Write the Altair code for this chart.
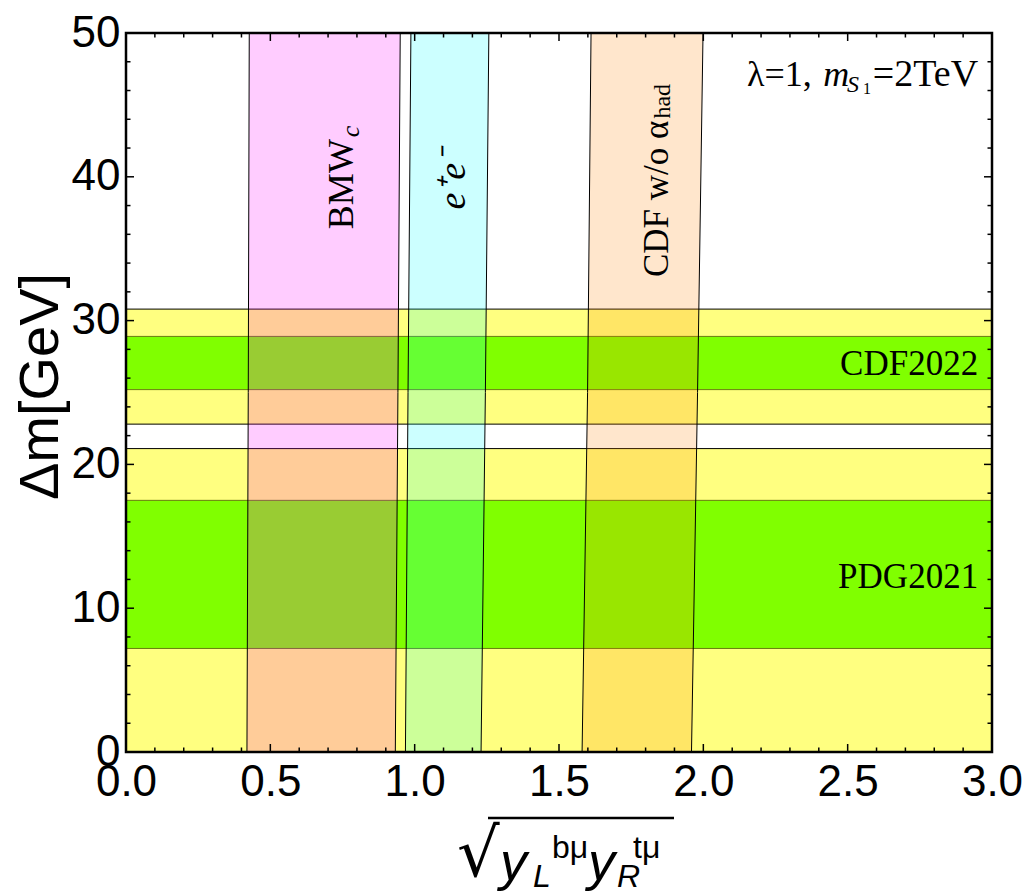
import altair as alt
import pandas as pd

# ---------------- data ----------------
# horizontal bands (Delta m in GeV)
h_names = ["CDF2022 2s", "CDF2022 1s", "PDG2021 2s", "PDG2021 1s"]
h_lo = [22.8, 25.2, 0.0, 7.2]
h_hi = [30.8, 28.9, 21.1, 17.5]
h_kind = ["2s", "1s", "2s", "1s"]

# vertical bands: edges read at three heights
edge_y = [0.0, 25.0, 50.0]
bmw_left = [0.419, 0.4235, 0.427]
bmw_right = [0.933, 0.942, 0.950]
ee_left = [0.968, 0.977, 0.987]
ee_right = [1.230, 1.245, 1.257]
cdf_left = [1.580, 1.599, 1.611]
cdf_right = [1.959, 1.980, 1.999]

x_major = [0.0, 0.5, 1.0, 1.5, 2.0, 2.5, 3.0]
x_minor = [0.1, 0.2, 0.3, 0.4, 0.6, 0.7, 0.8, 0.9, 1.1, 1.2, 1.3, 1.4,
           1.6, 1.7, 1.8, 1.9, 2.1, 2.2, 2.3, 2.4, 2.6, 2.7, 2.8, 2.9]
y_major = [0, 10, 20, 30, 40, 50]
y_minor = [2, 4, 6, 8, 12, 14, 16, 18, 22, 24, 26, 28, 32, 34, 36, 38,
           42, 44, 46, 48]

W, H = 866, 719
TOP = 25
XS = alt.Scale(domain=[0, 3], nice=False, zero=False)
YS = alt.Scale(domain=[0, 50], nice=False, zero=False)

hdf = pd.DataFrame({"name": h_names, "lo": h_lo, "hi": h_hi, "kind": h_kind,
                    "x0": [0.0] * 4, "x1": [3.0] * 4})
one = pd.DataFrame({"a": [0]})

# ---------------- axes (same objects on every layer so they merge) -------
x_axis = alt.Axis(values=x_major, format=".1f", labelFont="Liberation Sans",
                  labelFontSize=44, labelPadding=8, ticks=False, tickSize=0,
                  domain=False, grid=False, title=None, labelColor="black",
                  labelOverlap=False, labelFlush=False)
y_axis = alt.Axis(values=y_major, format="d", labelFont="Liberation Sans",
                  labelFontSize=44, labelPadding=6, ticks=False, tickSize=0,
                  domain=False, grid=False, title="Δm[GeV]", labelColor="black",
                  labelOverlap=False, labelFlush=False,
                  titleFont="Liberation Sans", titleFontSize=56,
                  titleFontWeight="normal", titleColor="black", titleAngle=270,
                  titleX=-86, titleY=353, titleAlign="center",
                  titleBaseline="middle")


def X(field, **kw):
    return alt.X(field, scale=XS, axis=x_axis, **kw)


def Y(field, **kw):
    return alt.Y(field, scale=YS, axis=y_axis, **kw)


yellow = alt.Chart(hdf).transform_filter(alt.datum.kind == "2s").mark_rect(
    fill="#FFFF80", stroke="black", strokeWidth=1
).encode(x=X("x0:Q"), x2="x1:Q", y=Y("lo:Q"), y2="hi:Q")

green = alt.Chart(hdf).transform_filter(alt.datum.kind == "1s").mark_rect(
    fill="#80FF00", stroke="#6a7d10", strokeWidth=1
).encode(x=X("x0:Q"), x2="x1:Q", y=Y("lo:Q"), y2="hi:Q")


def vband(left, right, color):
    d = pd.DataFrame({"y": edge_y, "l": left, "r": right})
    return alt.Chart(d).mark_area(
        orient="horizontal", fill=color, fillOpacity=0.2, stroke="black",
        strokeWidth=1, interpolate="linear"
    ).encode(y=Y("y:Q"), x=X("l:Q", stack=None), x2="r:Q")


vbands = [vband(bmw_left, bmw_right, "#FF00FF"),
          vband(ee_left, ee_right, "#00FFFF"),
          vband(cdf_left, cdf_right, "#FF8000")]


def xticks(vals, length, top):
    d = pd.DataFrame({"v": vals})
    yy, yy2 = (0, length) if top else (H, H - length)
    return alt.Chart(d).mark_rule(color="black", strokeWidth=1.5).encode(
        x=X("v:Q"), y=alt.value(yy), y2=alt.value(yy2))


def yticks(vals, length, right):
    d = pd.DataFrame({"v": vals})
    xx, xx2 = (W, W - length) if right else (0, length)
    return alt.Chart(d).mark_rule(color="black", strokeWidth=1.5).encode(
        y=Y("v:Q"), x=alt.value(xx), x2=alt.value(xx2))


ticks = [xticks(x_major, 8, False), xticks(x_minor, 4.5, False),
         xticks(x_major, 8, True), xticks(x_minor, 4.5, True),
         yticks(y_major, 8, False), yticks(y_minor, 4.5, False),
         yticks(y_major, 8, True), yticks(y_minor, 4.5, True)]

frame = alt.Chart(one).mark_rect(fillOpacity=0, stroke="black", strokeWidth=2.5).encode(
    x=alt.value(0), x2=alt.value(W), y=alt.value(0), y2=alt.value(H))

SERIF = "Liberation Serif"


def dtext(txt, x, y, **kw):
    d = pd.DataFrame({"px": [x], "py": [y]})
    return alt.Chart(d).mark_text(color="black", **kw).encode(
        x=X("px:Q"), y=Y("py:Q"), text=alt.value(txt))


def ptext(txt, x, y, **kw):
    return alt.Chart(one).mark_text(color="black", **kw).encode(
        x=alt.value(x), y=alt.value(y), text=alt.value(txt))


labels = [
    dtext("BMW", 0.748, 36.36, font=SERIF, fontSize=36, angle=270,
          align="left", baseline="middle"),
    dtext("c", 0.779, 42.75, font=SERIF, fontSize=26, fontStyle="italic",
          angle=270, align="left", baseline="middle"),
    dtext("e⁺e⁻", 1.136, 39.8, font=SERIF, fontSize=38, fontStyle="italic",
          angle=270, align="center", baseline="middle"),
    dtext("CDF w/o α", 1.840, 33.03, font=SERIF, fontSize=35, angle=270,
          align="left", baseline="middle"),
    dtext("had", 1.860, 44.05, font=SERIF, fontSize=24, angle=270,
          align="left", baseline="middle"),
    dtext("CDF2022", 2.952, 27.0, font=SERIF, fontSize=35, align="right",
          baseline="middle"),
    dtext("PDG2021", 2.952, 12.2, font=SERIF, fontSize=35, align="right",
          baseline="middle"),
    dtext("λ=1, ", 2.151, 46.3, font=SERIF, fontSize=36, align="left",
          baseline="alphabetic"),
    dtext("m", 2.415, 46.3, font=SERIF, fontSize=36, fontStyle="italic",
          align="left", baseline="alphabetic"),
    dtext("S", 2.498, 45.88, font=SERIF, fontSize=24, fontStyle="italic",
          align="left", baseline="alphabetic"),
    dtext("1", 2.553, 45.74, font=SERIF, fontSize=16, align="left",
          baseline="alphabetic"),
    dtext("=2TeV", 2.952, 46.3, font=SERIF, fontSize=38, align="right",
          baseline="alphabetic"),
]

SANS = "Liberation Sans"
# x-axis title, pixel positions relative to the plot's top-left corner
dy = 30 - (8 + TOP)
xtitle = [
    ptext("√", 331, 846 + dy, font="DejaVu Sans", fontSize=67, align="left",
          baseline="alphabetic"),
    alt.Chart(one).mark_rule(color="black", strokeWidth=2.5).encode(
        x=alt.value(362), x2=alt.value(548), y=alt.value(788 + dy)),
    ptext("y", 374, 850 + dy, font=SANS, fontSize=54, fontStyle="italic",
          align="left", baseline="alphabetic"),
    ptext("L", 407, 857 + dy, font=SANS, fontSize=32, fontStyle="italic",
          align="left", baseline="alphabetic"),
    ptext("bμ", 426, 828 + dy, font=SANS, fontSize=32, align="left",
          baseline="alphabetic"),
    ptext("y", 462, 850 + dy, font=SANS, fontSize=54, fontStyle="italic",
          align="left", baseline="alphabetic"),
    ptext("R", 491, 857 + dy, font=SANS, fontSize=32, fontStyle="italic",
          align="left", baseline="alphabetic"),
    ptext("tμ", 507, 828 + dy, font=SANS, fontSize=32, align="left",
          baseline="alphabetic"),
]

chart = alt.layer(yellow, green, *vbands, *ticks, frame, *labels, *xtitle).properties(
    width=W, height=H,
    autosize=alt.AutoSizeParams(type="none"),
    padding={"left": 118, "top": TOP, "right": 30, "bottom": 141},
).configure_view(strokeWidth=0)

chart.save("out.html", embed_options={"renderer": "svg", "actions": False})
